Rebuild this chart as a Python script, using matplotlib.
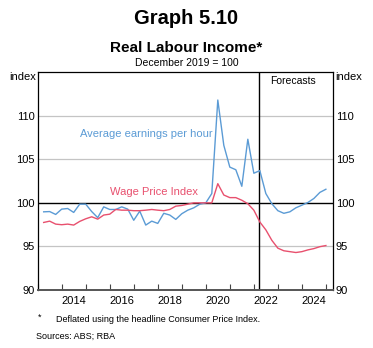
import numpy as np
import matplotlib
matplotlib.use('Agg')
import matplotlib.pyplot as plt

plt.rcParams['font.family'] = ['Liberation Sans', 'DejaVu Sans']

# quarterly data, Jun 2013 .. Dec 2024 (plotted at quarter end)
start_year = 2013.25
earnings = [98.97, 99.0, 98.67, 99.28, 99.35, 98.9, 99.85, 99.85, 99.0, 98.3,
            99.54, 99.24, 99.24, 99.54, 99.28, 98.0, 99.05, 97.45, 97.9, 97.64,
            98.8, 98.6, 98.1, 98.75, 99.16, 99.43, 99.85, 100.0, 101.07, 111.8,
            106.6, 104.1, 103.8, 101.9, 107.3, 103.4, 103.7, 101.07, 99.9, 99.1,
            98.8, 98.97, 99.43, 99.73, 100.04, 100.5, 101.2, 101.56]
wpi = [97.75, 97.9, 97.56, 97.49, 97.56, 97.45, 97.87, 98.17, 98.4, 98.13,
       98.6, 98.7, 99.24, 99.16, 99.16, 99.1, 99.1, 99.16, 99.24, 99.16,
       99.1, 99.24, 99.62, 99.7, 99.85, 100.0, 100.0, 100.0, 100.0, 102.2,
       100.9, 100.6, 100.6, 100.3, 99.9, 99.16, 97.8, 96.9, 95.7, 94.8,
       94.5, 94.4, 94.3, 94.4, 94.6, 94.75, 94.97, 95.1]
x = start_year + 0.25 * np.arange(len(earnings))

year_ticks = np.arange(2013, 2026)
year_labels = ['2014', '2016', '2018', '2020', '2022', '2024']
forecast_start = 2022.2

blue = '#5b9bd5'
red = '#e8506e'

fig = plt.figure(figsize=(3.73, 3.48), dpi=100)
ax = fig.add_axes([0.101, 0.1667, 0.792, 0.626])

for v in [95, 105, 110]:
    ax.axhline(v, color='#c4c4c4', lw=0.9, zorder=1)
ax.axhline(100, color='black', lw=1.0, zorder=2)
ax.axvline(forecast_start, color='black', lw=1.0, zorder=2)

ax.plot(x, earnings, color=blue, lw=1.0, zorder=3)
ax.plot(x, wpi, color=red, lw=1.0, zorder=3)

ax.set_xlim(2013, 2025.3)
ax.set_ylim(90, 115)

ax.set_xticks(year_ticks)
ax.set_xticklabels([])
ax.set_xticks([int(s) + 0.5 for s in year_labels], minor=True)
ax.set_xticklabels(year_labels, minor=True)
ax.tick_params(axis='x', which='major', direction='in', length=4, width=0.8, color='#444444')
ax.tick_params(axis='x', which='minor', length=0, labelsize=8, pad=4)

ax.set_yticks([90, 95, 100, 105, 110])
ax.tick_params(axis='y', length=0, labelsize=8, pad=2, labelright=True, right=False)

for s in ['left', 'right', 'top']:
    ax.spines[s].set_linewidth(0.9)
ax.spines['bottom'].set_color('#555555')
ax.spines['bottom'].set_linewidth(1.4)

ax.text(-0.005, 1.0, 'index', transform=ax.transAxes, ha='right', va='top', fontsize=8)
ax.text(1.007, 1.0, 'index', transform=ax.transAxes, ha='left', va='top', fontsize=8)
ax.text(2023.65, 114.5, 'Forecasts', ha='center', va='top', fontsize=7.5)

ax.text(2014.75, 107.9, 'Average earnings per hour', color=blue, ha='left', va='center', fontsize=8)
ax.text(2016.0, 101.2, 'Wage Price Index', color=red, ha='left', va='center', fontsize=8)

fig.text(0.5, 0.948, 'Graph 5.10', ha='center', va='center', fontsize=14.5, fontweight='bold')
fig.text(0.5, 0.862, 'Real Labour Income*', ha='center', va='center', fontsize=11, fontweight='bold')
fig.text(0.5, 0.818, 'December 2019 = 100', ha='center', va='center', fontsize=7.5)

fig.text(0.102, 0.088, '*', ha='left', va='center', fontsize=6.5)
fig.text(0.15, 0.082, 'Deflated using the headline Consumer Price Index.', ha='left', va='center', fontsize=6.5)
fig.text(0.097, 0.035, 'Sources: ABS; RBA', ha='left', va='center', fontsize=6.5)

fig.savefig('out.png', dpi=100)
